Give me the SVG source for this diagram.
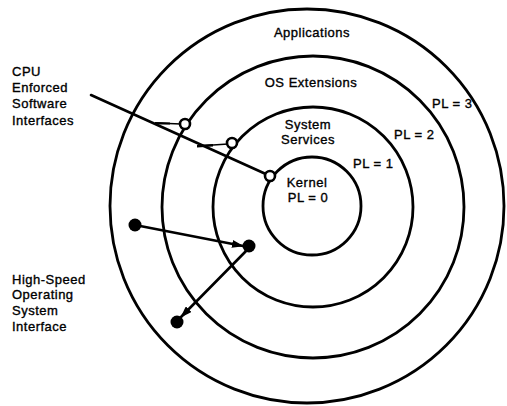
<svg xmlns="http://www.w3.org/2000/svg" width="507" height="406" viewBox="0 0 507 406">
<style>
.ring{fill:none;stroke:#000;stroke-width:2.8}
.t{font-family:"Liberation Sans",Arial,sans-serif;font-size:13px;letter-spacing:0.5px;fill:#000;stroke:#000;stroke-width:0.35}
.c{text-anchor:middle}
.ln{fill:none;stroke:#000;stroke-width:2.6;stroke-linecap:round}
.br{fill:none;stroke:#000;stroke-width:1.4}
.open{fill:#fff;stroke:#000;stroke-width:2.6}
.dot{fill:#000}
</style>
<defs>
<marker id="ah" viewBox="0 0 12 8" refX="11" refY="4" markerWidth="12" markerHeight="8" markerUnits="userSpaceOnUse" orient="auto">
<path d="M0,0 L12,4 L0,8 Z" fill="#000"/>
</marker>
</defs>
<rect width="507" height="406" fill="#fff"/>
<g id="ring-applications"><circle class="ring" cx="307" cy="206" r="197"/><text class="t c" x="312" y="37">Applications</text><text class="t" x="432" y="108" letter-spacing="0">PL = 3</text></g>
<g id="ring-os-extensions"><circle class="ring" cx="313" cy="207" r="151"/><text class="t c" x="311" y="87">OS Extensions</text><text class="t" x="394" y="139" letter-spacing="0">PL = 2</text></g>
<g id="ring-system-services"><circle class="ring" cx="313" cy="207" r="100"/><text class="t c" x="308" y="129">System</text><text class="t c" x="308" y="144">Services</text><text class="t" x="353" y="168" letter-spacing="0">PL = 1</text></g>
<g id="ring-kernel"><circle class="ring" cx="312" cy="206" r="49"/><text class="t c" x="307" y="187">Kernel</text><text class="t c" x="308" y="202" letter-spacing="0">PL = 0</text></g>
<g id="label-cpu"><text class="t" x="12" y="76">CPU</text><text class="t" x="12" y="92">Enforced</text><text class="t" x="12" y="108">Software</text><text class="t" x="12" y="125">Interfaces</text></g>
<g id="label-hs"><text class="t" x="12" y="284">High-Speed</text><text class="t" x="12" y="299">Operating</text><text class="t" x="12" y="315">System</text><text class="t" x="12" y="331">Interface</text></g>
<g id="connectors">
<path class="ln" d="M91,95 L268,175"/>
<path class="br" d="M156,123 L181,124"/>
<path d="M155,122 L170,122.5 L170,124.5 L155,124.5 Z" fill="#000"/>
<path class="br" d="M198,146 L228,144"/>
<path d="M197,145 L213,144 L213,146.5 L197,147.5 Z" fill="#000"/>
<path class="ln" d="M135,225 L243,246" marker-end="url(#ah)"/>
<path class="ln" d="M250,247 L181,317" marker-end="url(#ah)"/>
</g>
<g id="port-1"><circle class="open" cx="185" cy="124" r="5"/></g>
<g id="port-2"><circle class="open" cx="232" cy="143" r="5"/></g>
<g id="port-3"><circle class="open" cx="270" cy="176" r="5"/></g>
<g id="dot-a"><circle class="dot" cx="135" cy="225" r="6.5"/></g>
<g id="dot-b"><circle class="dot" cx="249" cy="246" r="6.5"/></g>
<g id="dot-c"><circle class="dot" cx="177" cy="322" r="6.5"/></g>
</svg>
